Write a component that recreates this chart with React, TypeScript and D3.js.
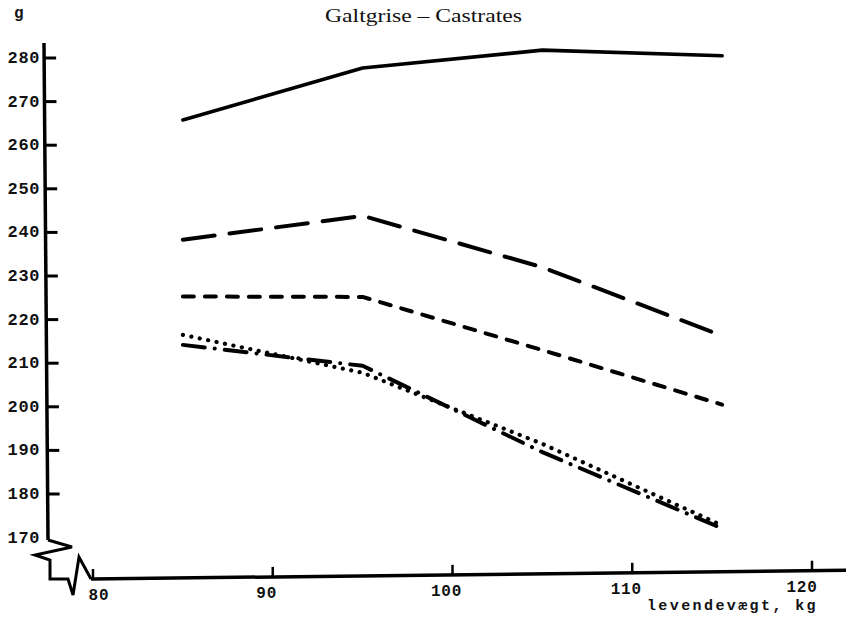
import React from "react";
import * as d3 from "d3";

// Live weight (kg) at which each measurement was taken
const weights = [85, 95, 105, 115];

// Daily gain series, g
const seriesSolid = [265.8, 277.7, 281.8, 280.5];
const seriesLongDash = [238.3, 243.8, 232.0, 216.3];
const seriesShortDash = [225.3, 225.2, 213.0, 200.5];
const seriesDotted = [216.5, 207.8, 191.5, 172.8];
const seriesDashDot = [214.2, 209.4, 189.6, 172.1];

const xTicks = [80, 90, 100, 110, 120];
const yTicks = [180, 190, 200, 210, 220, 230, 240, 250, 260, 270, 280];
const yLabels = [170, 180, 190, 200, 210, 220, 230, 240, 250, 260, 270, 280];

const title = "Galtgrise – Castrates";
const yUnit = "g";
const xTitle = "levendevægt, kg";

const W = 849;
const H = 622;

const x = d3.scaleLinear().domain([80, 120]).range([93, 812]);
const y = d3.scaleLinear().domain([180, 280]).range([494, 58]);

// hand-drawn axes lean slightly
const yAxisX = (py: number) => 44 + ((py - 43) / (540 - 43)) * 4;
const xAxisY = (px: number) => 579 - (px - 92) * 0.0115;

const mono = "'Liberation Mono', 'DejaVu Sans Mono', monospace";
const serif = "'Liberation Serif', 'DejaVu Serif', serif";

type S = { values: number[]; dash?: string; width: number };
const series: S[] = [
  { values: seriesSolid, width: 3.6 },
  { values: seriesLongDash, dash: "32 15", width: 4 },
  { values: seriesShortDash, dash: "11 11", width: 4 },
  { values: seriesDotted, dash: "0.1 8.5", width: 4.2 },
  { values: seriesDashDot, dash: "22 10 0.1 10", width: 4 },
];

// label nudges along x (the printed numbers sit a little left of their ticks)
const xLabelShift = (t: number) => (t === 80 ? 6 : t === 120 ? -10 : -6);

export default function App() {
  const line = d3
    .line<number>()
    .x((_, i) => x(weights[i]))
    .y((v) => y(v));

  const axisTopY = 43;
  const axisBotY = 540;
  const ox = yAxisX(axisBotY);
  const oy = xAxisY(92);

  // axis break zig-zags near the origin
  const breakPath = [
    [ox, axisBotY],
    [ox + 24, axisBotY + 7],
    [ox - 13, axisBotY + 15],
    [ox + 2, axisBotY + 20],
    [ox + 2, oy],
    [ox + 20, oy],
    [ox + 25, oy + 16],
    [ox + 31, oy - 22],
    [ox + 43, oy],
  ];
  const xAxisEnd = 846;

  return (
    <div style={{ position: "fixed", left: 0, top: 0 }}>
      <svg width={W} height={H} viewBox={`0 0 ${W} ${H}`} style={{ display: "block", background: "#fff" }}>
        <rect width={W} height={H} fill="#fff" />

        <text x={423.5} y={22} textAnchor="middle" fontFamily={serif} fontSize={18} textLength={197} lengthAdjust="spacingAndGlyphs" fill="#111">
          {title}
        </text>
        <text x={14} y={18} fontFamily={mono} fontWeight="bold" fontSize={16} fill="#111">
          {yUnit}
        </text>

        {/* y axis */}
        <line x1={yAxisX(axisTopY)} y1={axisTopY} x2={ox} y2={axisBotY} stroke="#000" strokeWidth={3.5} />
        {yTicks.map((t) => {
          const py = y(t);
          const ax = yAxisX(py);
          return <line key={t} x1={ax} y1={py} x2={ax + 12} y2={py} stroke="#000" strokeWidth={3} />;
        })}
        {yLabels.map((t) => (
          <text key={t} x={40} y={y(t) + 5} textAnchor="end" fontFamily={mono} fontWeight="bold" fontSize={17} letterSpacing={0.6} fill="#111">
            {t}
          </text>
        ))}

        {/* break + x axis */}
        <path d={d3.line()(breakPath as [number, number][]) ?? ""} fill="none" stroke="#000" strokeWidth={3} strokeLinejoin="miter" />
        <line x1={ox + 43} y1={oy} x2={xAxisEnd} y2={xAxisY(xAxisEnd)} stroke="#000" strokeWidth={3.5} />
        {xTicks.map((t) => {
          const px = x(t);
          const ay = xAxisY(px);
          return <line key={t} x1={px} y1={ay + 1} x2={px} y2={ay - 10} stroke="#000" strokeWidth={2.5} />;
        })}
        {xTicks.map((t) => {
          const px = x(t);
          return (
            <text key={t} x={px + xLabelShift(t)} y={xAxisY(px) + 21} textAnchor="middle" fontFamily={mono} fontWeight="bold" fontSize={16} letterSpacing={0.8} fill="#111">
              {t}
            </text>
          );
        })}
        <text x={818} y={610} textAnchor="end" fontFamily={mono} fontWeight="bold" fontSize={15} letterSpacing={2.4} fill="#111">
          {xTitle}
        </text>

        {/* series */}
        {series.map((s, i) => (
          <path
            key={i}
            d={line(s.values) ?? ""}
            fill="none"
            stroke="#000"
            strokeWidth={s.width}
            strokeDasharray={s.dash}
            strokeLinecap="round"
            strokeLinejoin="round"
          />
        ))}
      </svg>
    </div>
  );
}
